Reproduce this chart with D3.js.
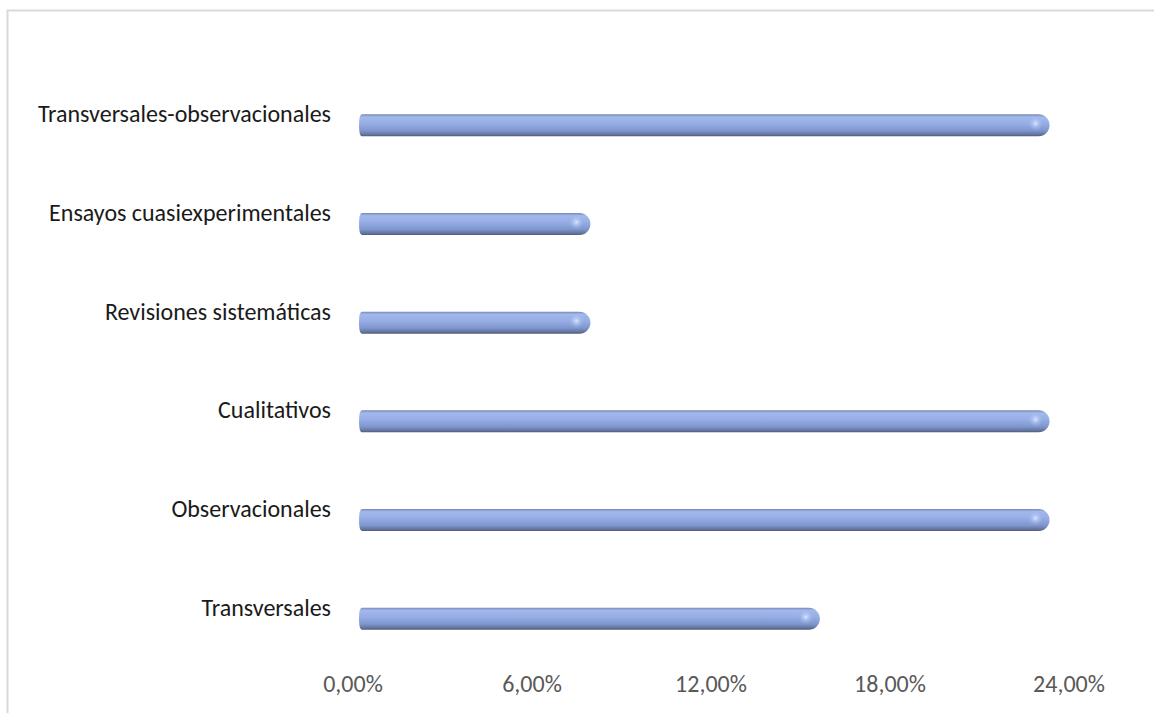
<!DOCTYPE html>
<html>
<head>
<meta charset="utf-8">
<script src="https://cdn.jsdelivr.net/npm/d3@7"></script>
<style>
  body { margin: 0; background: #fff; }
  text { font-family: Carlito, Calibri, Lato, sans-serif; }
</style>
</head>
<body>
<div id="chart"></div>
<script>
/*chart data: share of studies per design*/
var categories = ["Transversales-observacionales", "Ensayos cuasiexperimentales", "Revisiones sistemáticas",
  "Cualitativos", "Observacionales", "Transversales"];
var values = [23.08, 7.69, 7.69, 23.08, 23.08, 15.38];
var tickValues = [0, 6, 12, 18, 24];

var svgWidth = 1154;
var svgHeight = 713;

var svg = d3.select("#chart").append("svg")
  .attr("width", svgWidth)
  .attr("height", svgHeight);

/*chart border, right and bottom run off the picture*/
svg.append("rect")
  .attr("x", 7.5).attr("y", 10.5)
  .attr("width", 1160).attr("height", 720)
  .attr("fill", "none")
  .attr("stroke", "#d9d9d9")
  .attr("stroke-width", 2);

/*scales*/
var xScale = d3.scaleLinear().domain([0, 24]).range([353, 1069]);
var yScale = d3.scaleBand().domain(categories).range([76, 668]);

var depth = 7;      /*3d shift of the cylinders to the right*/
var barH = 22;

/*gradients for the cylinder look*/
var defs = svg.append("defs");
var grad = defs.append("linearGradient")
  .attr("id", "cyl").attr("x1", 0).attr("y1", 0).attr("x2", 0).attr("y2", 1);
[["0%", "#7787b5"], ["12%", "#a3b8ec"], ["40%", "#97aee6"], ["75%", "#7e95cd"], ["92%", "#63749c"], ["100%", "#4d5a7b"]]
  .forEach(function(s) { grad.append("stop").attr("offset", s[0]).attr("stop-color", s[1]); });

/*soft highlight on the rounded end*/
var cap = defs.append("radialGradient")
  .attr("id", "cap").attr("cx", "50%").attr("cy", "45%").attr("r", "50%");
[["0%", "#e0eaff", 0.95], ["40%", "#bfd0f8", 0.55], ["100%", "#9bb3ea", 0]]
  .forEach(function(s) {
    cap.append("stop").attr("offset", s[0]).attr("stop-color", s[1]).attr("stop-opacity", s[2]);
  });

/*axis tick labels*/
svg.append("g").selectAll("text")
  .data(tickValues)
  .enter().append("text")
  .attr("x", d => xScale(d))
  .attr("y", 692)
  .attr("text-anchor", "middle")
  .attr("fill", "#595959")
  .style("font-size", "24px")
  .text(d => d.toFixed(2).replace(".", ",") + "%");

/*category labels, sitting a little above each cylinder*/
svg.append("g").selectAll("text")
  .data(categories)
  .enter().append("text")
  .attr("x", 331)
  .attr("y", d => yScale(d) + yScale.bandwidth() / 2 - 3)
  .attr("text-anchor", "end")
  .attr("fill", "#1a1a1a")
  .style("font-size", "24px")
  .text(d => d);

/*cylinders*/
var bars = svg.append("g").selectAll("g")
  .data(categories)
  .enter().append("g")
  .attr("transform", d => `translate(0,${yScale(d) + yScale.bandwidth() / 2 - barH / 2})`);

bars.append("path")
  .attr("d", function(d, i) {
    var x0 = xScale(0) + 6, r = barH / 2, x1 = xScale(values[i]) + depth - r + 1;
    return `M${x0 + 3},0 L${x1},0 A${r},${r} 0 0 1 ${x1},${barH} L${x0 + 3},${barH} Q${x0},${barH} ${x0},${r} Q${x0},0 ${x0 + 3},0 Z`;
  })
  .attr("fill", "url(#cyl)");

bars.append("ellipse")
  .attr("cx", (d, i) => xScale(values[i]) + depth - barH / 2 - 2)
  .attr("cy", barH / 2 - 1)
  .attr("rx", 8)
  .attr("ry", 8)
  .attr("fill", "url(#cap)");
</script>
</body>
</html>
